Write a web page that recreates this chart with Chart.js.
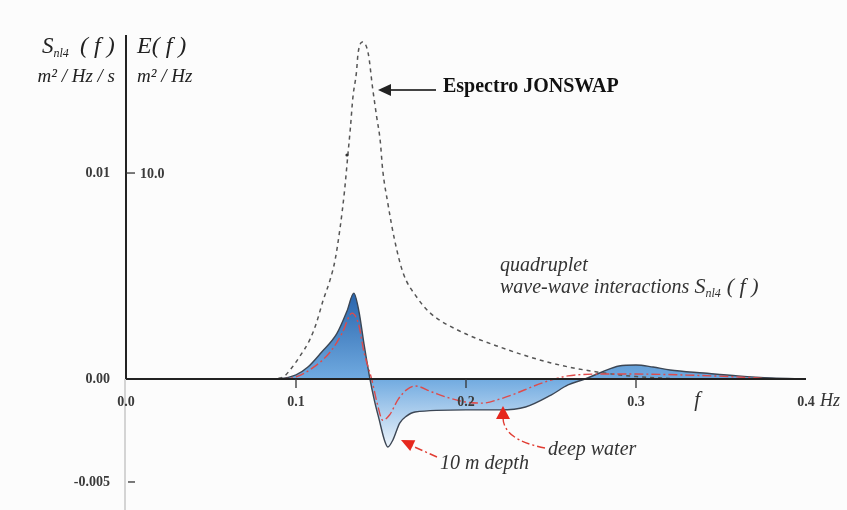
<!DOCTYPE html>
<html>
<head>
<meta charset="utf-8">
<script src="https://cdn.jsdelivr.net/npm/chart.js@4"></script>
<style>
  body { margin: 0; background: #fcfcfc; }
  canvas { display: block; }
</style>
</head>
<body>
<canvas id="chart" width="847" height="510"></canvas>
<script>
// JONSWAP spectrum E(f), m2/Hz
const freqJonswap = [0.085, 0.0925, 0.0965, 0.102, 0.108, 0.112, 0.116, 0.12, 0.123, 0.126, 0.1285, 0.1305, 0.132, 0.1335, 0.1355, 0.1365, 0.139, 0.1425, 0.145, 0.1475, 0.1495, 0.151, 0.154, 0.158, 0.163, 0.171, 0.179, 0.195, 0.22, 0.25, 0.277, 0.3, 0.32];
const jonswap = [0, 0.1, 0.44, 1.07, 1.89, 2.72, 3.83, 4.8, 5.78, 7.38, 9.1, 10.87, 12.2, 13.7, 14.85, 15.8, 16.36, 15.8, 14.17, 12.7, 11.6, 10.15, 8.54, 6.75, 5.15, 3.98, 3.2, 2.38, 1.55, 0.78, 0.34, 0.12, 0.03];

// quadruplet source term Snl4(f), m2/Hz/s (shaded curve)
const freqShaded = [0.08, 0.09, 0.1, 0.107, 0.115, 0.124, 0.13, 0.134, 0.137, 0.14, 0.1435, 0.146, 0.149, 0.152, 0.154, 0.157, 0.161, 0.165, 0.17, 0.2, 0.22, 0.235, 0.25, 0.26, 0.27, 0.28, 0.29, 0.3, 0.31, 0.32, 0.34, 0.36, 0.38, 0.4];
const snlShaded = [0, 0.00002, 0.0002, 0.00058, 0.0013, 0.0022, 0.0033, 0.00417, 0.0033, 0.0017, 0, -0.001, -0.002, -0.00296, -0.0033, -0.00296, -0.00214, -0.0018, -0.0016, -0.0015, -0.0015, -0.00136, -0.00078, -0.00029, 0, 0.00034, 0.00063, 0.00068, 0.00058, 0.00044, 0.00029, 0.00015, 0.00005, 0];

// quadruplet source term Snl4(f), m2/Hz/s (dash-dot curve)
const freqDashed = [0.09, 0.1, 0.11, 0.12, 0.127, 0.133, 0.137, 0.14, 0.1445, 0.148, 0.151, 0.155, 0.16, 0.165, 0.17, 0.18, 0.19, 0.2, 0.21, 0.22, 0.23, 0.24, 0.25, 0.26, 0.28, 0.3, 0.33, 0.36, 0.38];
const snlDashed = [0, 0.0001, 0.00055, 0.0013, 0.0022, 0.0032, 0.0026, 0.0013, 0, -0.00126, -0.002, -0.00175, -0.001, -0.00053, -0.00034, -0.00063, -0.00092, -0.00112, -0.00117, -0.00097, -0.00068, -0.00034, -0.00005, 0.00015, 0.00024, 0.00024, 0.00019, 0.0001, 0];

const xTicks = [0.0, 0.1, 0.2, 0.3, 0.4];
const xTickLabels = ['0.0', '0.1', '0.2', '0.3', '0.4'];
const snlTicks = [0.01, 0.0, -0.005];
const snlTickLabels = ['0.01', '0.00', '-0.005'];
const eTicks = [10];
const eTickLabels = ['10.0'];

const SERIF = '"Liberation Serif", "DejaVu Serif", serif';
const TICK_FONT = 'bold 14px ' + SERIF;

const pts = (xs, ys) => xs.map((x, i) => ({x: x, y: ys[i]}));

function shadeGradient(context) {
    const chart = context.chart;
    const y = chart.scales.ySnl;
    if (!chart.chartArea || !y) return 'rgba(90,150,210,0.8)';
    const g = chart.ctx.createLinearGradient(0, y.getPixelForValue(0.0042), 0, y.getPixelForValue(-0.0034));
    g.addColorStop(0, 'rgb(40,100,172)');
    g.addColorStop(0.55, 'rgb(112,170,224)');
    g.addColorStop(1, 'rgb(240,246,252)');
    return g;
}

function txt(ctx, s, x, y, font, color, align) {
    ctx.font = font;
    ctx.fillStyle = color || '#333';
    ctx.textAlign = align || 'left';
    ctx.textBaseline = 'alphabetic';
    ctx.fillText(s, x, y);
    return ctx.measureText(s).width;
}

function arrowHead(ctx, tipX, tipY, fromX, fromY, len, half, color) {
    const a = Math.atan2(tipY - fromY, tipX - fromX);
    ctx.save();
    ctx.fillStyle = color;
    ctx.beginPath();
    ctx.moveTo(tipX, tipY);
    ctx.lineTo(tipX - len * Math.cos(a) + half * Math.sin(a), tipY - len * Math.sin(a) - half * Math.cos(a));
    ctx.lineTo(tipX - len * Math.cos(a) - half * Math.sin(a), tipY - len * Math.sin(a) + half * Math.cos(a));
    ctx.closePath();
    ctx.fill();
    ctx.restore();
}

const axesPlugin = {
    id: 'axesPlugin',
    afterDatasetsDraw(chart) {
        const ctx = chart.ctx;
        const xs = chart.scales.x, ys = chart.scales.ySnl, ye = chart.scales.yE;
        const x0 = xs.getPixelForValue(0), y0 = ys.getPixelForValue(0);
        ctx.save();
        // faint continuation of the vertical axis below zero
        ctx.strokeStyle = '#d4d4d4';
        ctx.lineWidth = 2;
        ctx.beginPath();
        ctx.moveTo(x0 - 1, y0);
        ctx.lineTo(x0 - 1, chart.height);
        ctx.stroke();
        // vertical axis
        ctx.strokeStyle = '#222';
        ctx.lineWidth = 2;
        ctx.beginPath();
        ctx.moveTo(x0, 35);
        ctx.lineTo(x0, y0);
        ctx.stroke();
        // horizontal axis
        ctx.lineWidth = 2.2;
        ctx.beginPath();
        ctx.moveTo(x0, y0);
        ctx.lineTo(xs.getPixelForValue(0.4), y0);
        ctx.stroke();
        // x ticks and labels
        ctx.lineWidth = 1.3;
        ctx.strokeStyle = '#333';
        xTicks.forEach((v, i) => {
            const px = xs.getPixelForValue(v);
            if (v > 0 && v < 0.4) {
                ctx.beginPath();
                ctx.moveTo(px, y0);
                ctx.lineTo(px, y0 + 9);
                ctx.stroke();
            }
            txt(ctx, xTickLabels[i], px, y0 + 27, TICK_FONT, '#3a3a3a', 'center');
        });
        txt(ctx, 'Hz', xs.getPixelForValue(0.4) + 14, y0 + 27, 'italic 18px ' + SERIF, '#333', 'left');
        txt(ctx, 'f', xs.getPixelForValue(0.336), y0 + 27, 'italic 21px ' + SERIF, '#333', 'center');
        // left (Snl4) tick labels
        snlTicks.forEach((v, i) => {
            const py = ys.getPixelForValue(v);
            txt(ctx, snlTickLabels[i], x0 - 16, py + 4, TICK_FONT, '#3a3a3a', 'right');
            if (v < 0) {
                ctx.beginPath();
                ctx.moveTo(x0 + 2, py);
                ctx.lineTo(x0 + 9, py);
                ctx.stroke();
            }
        });
        // right (E) tick labels
        eTicks.forEach((v, i) => {
            const py = ye.getPixelForValue(v);
            ctx.beginPath();
            ctx.moveTo(x0, py);
            ctx.lineTo(x0 + 9, py);
            ctx.stroke();
            txt(ctx, eTickLabels[i], x0 + 14, py + 5, TICK_FONT, '#3a3a3a', 'left');
        });
        // axis titles
        let w = txt(ctx, 'S', 42, 53, 'italic 23px ' + SERIF, '#222');
        txt(ctx, 'nl4', 42 + w, 57, 'italic 12px ' + SERIF, '#222');
        txt(ctx, '( f )', 80, 53, 'italic 24px ' + SERIF, '#222');
        txt(ctx, 'm² / Hz / s', 115, 82, 'italic 19px ' + SERIF, '#222', 'right');
        txt(ctx, 'E( f )', 137, 53, 'italic 24px ' + SERIF, '#222');
        txt(ctx, 'm² / Hz', 137, 82, 'italic 19px ' + SERIF, '#222');

        // JONSWAP label and arrow
        txt(ctx, 'Espectro JONSWAP', 443, 92, 'bold 20px ' + SERIF, '#111');
        ctx.strokeStyle = '#444';
        ctx.lineWidth = 2;
        ctx.beginPath();
        ctx.moveTo(436, 90);
        ctx.lineTo(386, 90);
        ctx.stroke();
        arrowHead(ctx, 378, 90, 436, 90, 13, 6, '#222');
        // small stray dot
        ctx.fillStyle = '#333';
        ctx.beginPath();
        ctx.arc(347, 155, 1.6, 0, Math.PI * 2);
        ctx.fill();

        // Snl4 description
        txt(ctx, 'quadruplet', 500, 271, 'italic 20px ' + SERIF, '#333');
        w = txt(ctx, 'wave-wave interactions ', 500, 293, 'italic 20px ' + SERIF, '#333');
        const w2 = txt(ctx, 'S', 500 + w, 293, 'italic 22px ' + SERIF, '#333');
        const w3 = txt(ctx, 'nl4', 500 + w + w2, 297, 'italic 12px ' + SERIF, '#333');
        txt(ctx, '( f )', 500 + w + w2 + w3 + 6, 293, 'italic 22px ' + SERIF, '#333');

        // 10 m depth label and arrow
        txt(ctx, '10 m depth', 440, 469, 'italic 20px ' + SERIF, '#333');
        ctx.strokeStyle = 'rgb(225,60,50)';
        ctx.lineWidth = 1.4;
        ctx.setLineDash([8, 3, 2, 3]);
        ctx.beginPath();
        ctx.moveTo(437, 457);
        ctx.lineTo(410, 445);
        ctx.stroke();
        // deep water label and arrow
        txt(ctx, 'deep water', 548, 455, 'italic 20px ' + SERIF, '#333');
        ctx.beginPath();
        ctx.moveTo(545, 448);
        ctx.quadraticCurveTo(503, 440, 503, 417);
        ctx.stroke();
        ctx.setLineDash([]);
        arrowHead(ctx, 401, 440, 437, 457, 13, 6, 'rgb(230,40,30)');
        arrowHead(ctx, 503, 406, 503, 440, 13, 7, 'rgb(230,40,30)');
        ctx.restore();
    }
};

new Chart(document.getElementById('chart'), {
    type: 'line',
    data: {
        datasets: [
            {
                label: 'Espectro JONSWAP',
                data: pts(freqJonswap, jonswap),
                yAxisID: 'yE',
                order: 1,
                borderColor: '#555',
                borderWidth: 1.5,
                borderDash: [4, 4],
                fill: false,
                cubicInterpolationMode: 'monotone',
                pointRadius: 0
            },
            {
                label: 'Snl4 shaded',
                data: pts(freqShaded, snlShaded),
                yAxisID: 'ySnl',
                order: 2,
                borderColor: '#3c4654',
                borderWidth: 1.4,
                backgroundColor: shadeGradient,
                fill: 'origin',
                cubicInterpolationMode: 'monotone',
                pointRadius: 0
            },
            {
                label: 'Snl4 dash-dot',
                data: pts(freqDashed, snlDashed),
                yAxisID: 'ySnl',
                order: 0,
                borderColor: 'rgb(222,75,75)',
                borderWidth: 1.4,
                borderDash: [9, 3, 2, 3],
                fill: false,
                cubicInterpolationMode: 'monotone',
                pointRadius: 0
            }
        ]
    },
    options: {
        responsive: false,
        animation: false,
        layout: { padding: { left: 126, right: 41, top: 0, bottom: 0 } },
        plugins: { legend: { display: false }, tooltip: { enabled: false } },
        scales: {
            x: { type: 'linear', min: 0, max: 0.4, display: false },
            ySnl: { type: 'linear', min: -0.00636, max: 0.0184, display: false },
            yE: { type: 'linear', min: -6.36, max: 18.4, display: false }
        }
    },
    plugins: [axesPlugin]
});
</script>
</body>
</html>
